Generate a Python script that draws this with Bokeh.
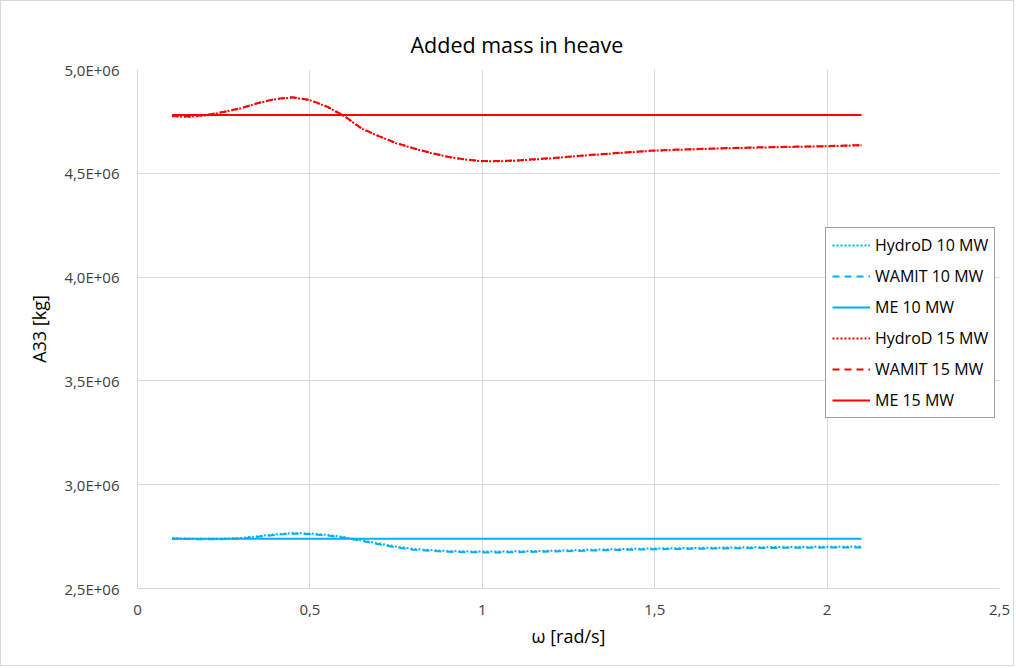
from bokeh.plotting import figure
from bokeh.models import FixedTicker, Legend, LegendItem, Title, Range1d
from bokeh.embed import file_html
from bokeh.resources import INLINE

# ---- data ----
omega = [0.1, 0.15, 0.2, 0.25, 0.3, 0.35, 0.4, 0.45, 0.5, 0.55, 0.6, 0.65, 0.7, 0.75,
         0.8, 0.85, 0.9, 0.95, 1.0, 1.05, 1.1, 1.2, 1.3, 1.4, 1.5, 1.6, 1.7, 1.8, 1.9, 2.0, 2.1]

hydrod_15 = [4.775, 4.772, 4.780, 4.795, 4.813, 4.838, 4.857, 4.865, 4.852, 4.820, 4.775,
             4.715, 4.678, 4.645, 4.620, 4.598, 4.579, 4.566, 4.558, 4.558, 4.561, 4.572,
             4.586, 4.598, 4.609, 4.615, 4.620, 4.624, 4.627, 4.630, 4.635]
wamit_15 = [4.777, 4.773, 4.781, 4.796, 4.814, 4.839, 4.858, 4.866, 4.853, 4.821, 4.776,
            4.716, 4.679, 4.646, 4.621, 4.599, 4.580, 4.567, 4.559, 4.559, 4.562, 4.573,
            4.587, 4.599, 4.610, 4.616, 4.621, 4.625, 4.628, 4.631, 4.636]
hydrod_10 = [2.742, 2.740, 2.739, 2.740, 2.743, 2.752, 2.761, 2.767, 2.765, 2.758, 2.747,
             2.732, 2.717, 2.702, 2.691, 2.685, 2.681, 2.679, 2.678, 2.678, 2.679, 2.682,
             2.686, 2.690, 2.693, 2.695, 2.697, 2.699, 2.700, 2.701, 2.702]
wamit_10 = [2.740, 2.738, 2.737, 2.738, 2.741, 2.749, 2.758, 2.764, 2.762, 2.755, 2.744,
            2.729, 2.713, 2.698, 2.687, 2.681, 2.677, 2.675, 2.674, 2.674, 2.675, 2.678,
            2.682, 2.686, 2.689, 2.691, 2.693, 2.695, 2.696, 2.697, 2.698]
me_omega = [0.1, 2.1]
me_10 = [2.740, 2.740]
me_15 = [4.781, 4.781]

x_ticks = [0, 0.5, 1, 1.5, 2, 2.5]
x_tick_labels = ["0", "0,5", "1", "1,5", "2", "2,5"]
y_ticks = [2.5e6, 3.0e6, 3.5e6, 4.0e6, 4.5e6, 5.0e6]
y_tick_labels = ["2,5E+06", "3,0E+06", "3,5E+06", "4,0E+06", "4,5E+06", "5,0E+06"]

series_names = ["HydroD 10 MW", "WAMIT 10 MW", "ME 10 MW", "HydroD 15 MW", "WAMIT 15 MW", "ME 15 MW"]

BLUE = "#00B0F0"
RED = "#FF0000"
FONT = "Open Sans"

p = figure(width=1014, height=666, output_backend="svg", toolbar_location=None,
           x_range=Range1d(0, 2.5), y_range=Range1d(2.5e6, 5.0e6),
           min_border_left=136, min_border_right=16, min_border_top=68, min_border_bottom=79)
p.styles = {"border": "1px solid #d9d9d9"}
p.outline_line_color = None

title = Title(text="Added mass in heave", align="left", offset=273,
              text_font=FONT, text_font_size="21.5px", text_font_style="normal",
              text_color="#000000", standoff=22)
p.add_layout(title, "above")

sc = 1e6
r1 = p.line(omega, [v * sc for v in hydrod_10], line_color=BLUE, line_width=2, line_dash="2 2")
r2 = p.line(omega, [v * sc for v in wamit_10], line_color=BLUE, line_width=2, line_dash="7 5")
r3 = p.line(me_omega, [v * sc for v in me_10], line_color=BLUE, line_width=2)
r4 = p.line(omega, [v * sc for v in hydrod_15], line_color=RED, line_width=2, line_dash="2 2")
r5 = p.line(omega, [v * sc for v in wamit_15], line_color=RED, line_width=2, line_dash="7 5")
r6 = p.line(me_omega, [v * sc for v in me_15], line_color=RED, line_width=2)

for ax in (p.xaxis[0], p.yaxis[0]):
    ax.major_tick_line_color = None
    ax.minor_tick_line_color = None
    ax.axis_line_color = "#d9d9d9"
    ax.major_label_text_font = FONT
    ax.major_label_text_font_size = "15px"
    ax.major_label_text_color = "#404040"
    ax.axis_label_text_font = FONT
    ax.axis_label_text_font_size = "18px"
    ax.axis_label_text_font_style = "normal"
    ax.axis_label_text_color = "#000000"

p.xaxis.ticker = FixedTicker(ticks=x_ticks)
p.xaxis.major_label_overrides = {t: l for t, l in zip(x_ticks, x_tick_labels)}
p.yaxis.ticker = FixedTicker(ticks=y_ticks)
p.yaxis.major_label_overrides = {t: l for t, l in zip(y_ticks, y_tick_labels)}
p.xaxis.axis_label = "ω [rad/s]"
p.yaxis.axis_label = "A33 [kg]"
p.xaxis.major_label_standoff = 10
p.yaxis.major_label_standoff = 12
p.xaxis.axis_label_standoff = 6
p.yaxis.axis_label_standoff = 10

p.xgrid.grid_line_color = "#d9d9d9"
p.ygrid.grid_line_color = "#d9d9d9"
p.xgrid.ticker = FixedTicker(ticks=x_ticks)
p.ygrid.ticker = FixedTicker(ticks=y_ticks)

legend = Legend(items=[LegendItem(label=n, renderers=[r]) for n, r in
                       zip(series_names, [r1, r2, r3, r4, r5, r6])],
                location=(688, 170))
legend.label_text_font = FONT
legend.label_text_font_size = "16px"
legend.label_text_color = "#000000"
legend.glyph_width = 38
legend.glyph_height = 20
legend.label_height = 20
legend.spacing = 9
legend.padding = 6
legend.margin = 0
legend.label_standoff = 5
legend.border_line_color = "#404040"
legend.border_line_width = 1
legend.background_fill_alpha = 1
p.add_layout(legend, "center")

open("out.html", "w").write(file_html(p, INLINE))
